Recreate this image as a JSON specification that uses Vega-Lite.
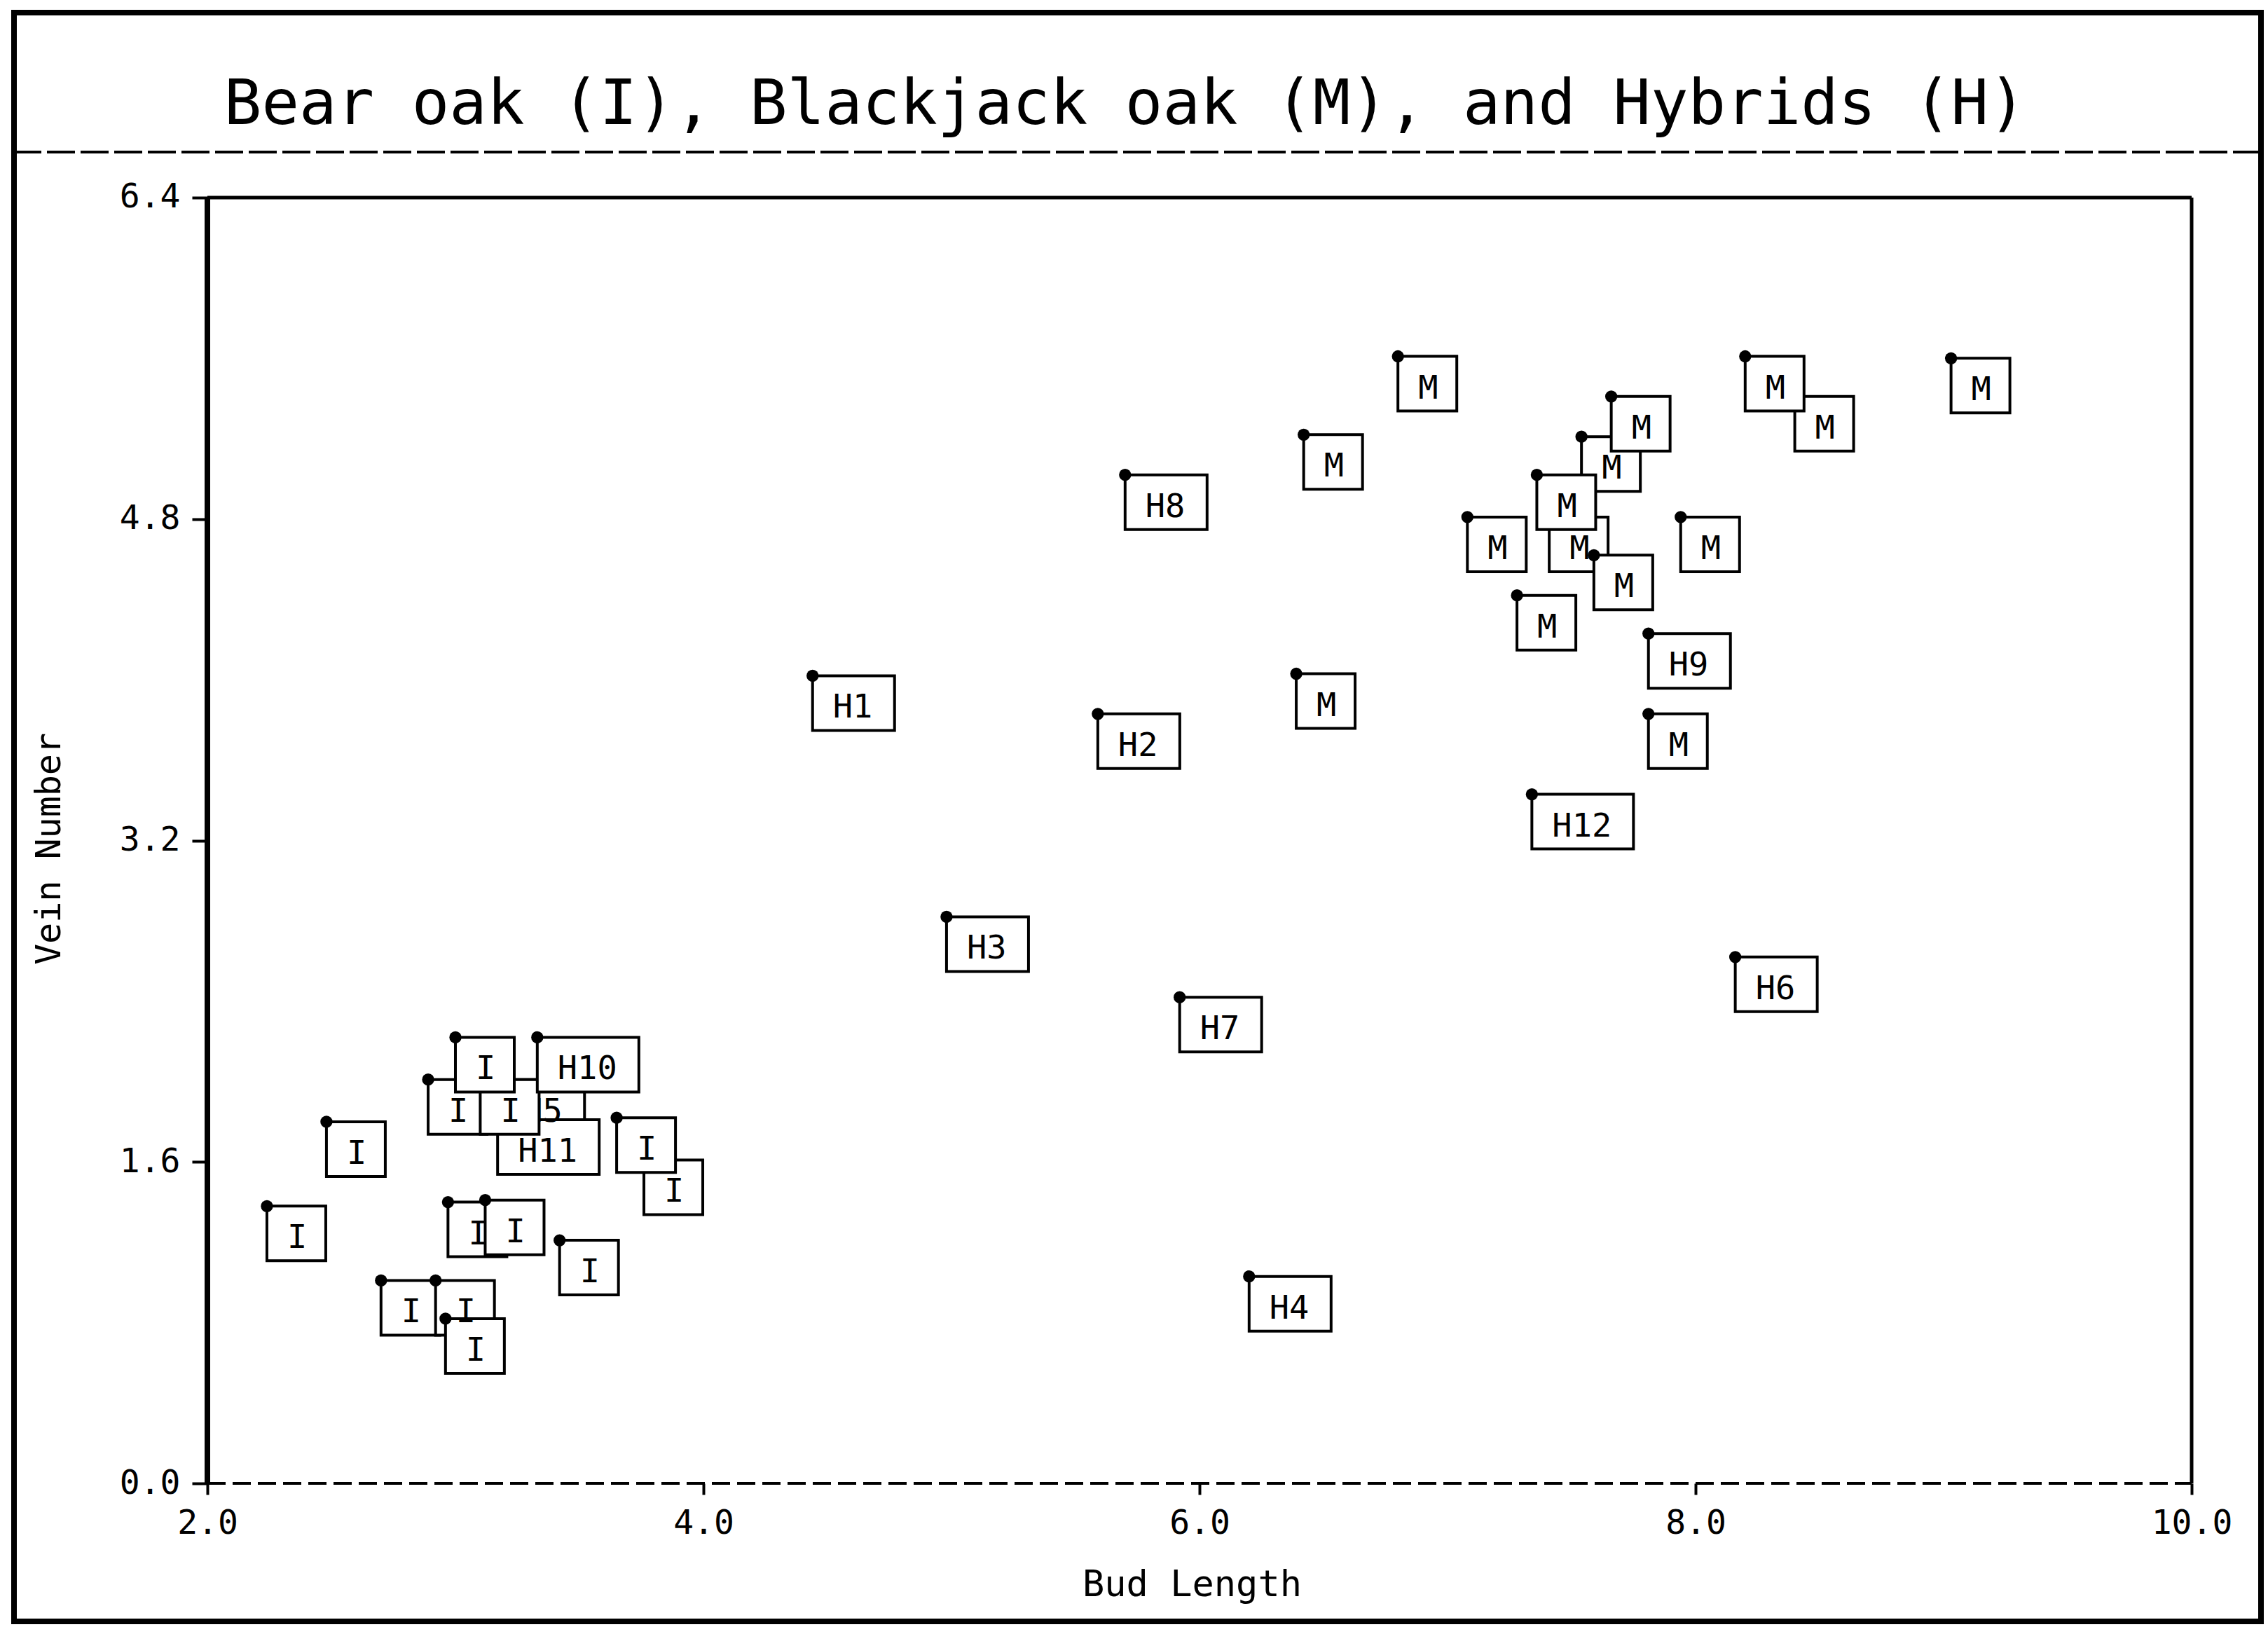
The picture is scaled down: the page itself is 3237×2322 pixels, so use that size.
{
  "$schema": "https://vega.github.io/schema/vega-lite/v6.json",
  "width": 3207,
  "height": 2296,
  "autosize": {"type": "none"},
  "padding": {"left": 20, "top": 18, "right": 10, "bottom": 8},
  "background": "white",
  "config": {
    "view": {"stroke": "black", "strokeWidth": 8, "fill": "white"}
  },
  "datasets": {
    "tierA": [
      {"bud_length": 3.19, "vein_number": 2.01, "label": "H5"},
      {"bud_length": 3.17, "vein_number": 1.81, "label": "H11"}
    ],
    "tierB": [
      {"bud_length": 2.89, "vein_number": 2.01, "label": "I"},
      {"bud_length": 3.10, "vein_number": 2.01, "label": "I"},
      {"bud_length": 3.76, "vein_number": 1.61, "label": "I"},
      {"bud_length": 7.54, "vein_number": 5.21, "label": "M"},
      {"bud_length": 7.41, "vein_number": 4.81, "label": "M"},
      {"bud_length": 8.40, "vein_number": 5.41, "label": "M"}
    ],
    "tierC": [
      {"bud_length": 3.00, "vein_number": 2.22, "label": "I"},
      {"bud_length": 3.33, "vein_number": 2.22, "label": "H10"},
      {"bud_length": 2.48, "vein_number": 1.80, "label": "I"},
      {"bud_length": 3.65, "vein_number": 1.82, "label": "I"},
      {"bud_length": 2.24, "vein_number": 1.38, "label": "I"},
      {"bud_length": 2.97, "vein_number": 1.40, "label": "I"},
      {"bud_length": 3.12, "vein_number": 1.41, "label": "I"},
      {"bud_length": 3.42, "vein_number": 1.21, "label": "I"},
      {"bud_length": 2.70, "vein_number": 1.01, "label": "I"},
      {"bud_length": 2.92, "vein_number": 1.01, "label": "I"},
      {"bud_length": 2.96, "vein_number": 0.82, "label": "I"},
      {"bud_length": 4.44, "vein_number": 4.02, "label": "H1"},
      {"bud_length": 5.59, "vein_number": 3.83, "label": "H2"},
      {"bud_length": 4.98, "vein_number": 2.82, "label": "H3"},
      {"bud_length": 6.20, "vein_number": 1.03, "label": "H4"},
      {"bud_length": 8.16, "vein_number": 2.62, "label": "H6"},
      {"bud_length": 5.92, "vein_number": 2.42, "label": "H7"},
      {"bud_length": 5.70, "vein_number": 5.02, "label": "H8"},
      {"bud_length": 7.81, "vein_number": 4.23, "label": "H9"},
      {"bud_length": 7.34, "vein_number": 3.43, "label": "H12"},
      {"bud_length": 6.80, "vein_number": 5.61, "label": "M"},
      {"bud_length": 8.20, "vein_number": 5.61, "label": "M"},
      {"bud_length": 9.03, "vein_number": 5.60, "label": "M"},
      {"bud_length": 7.66, "vein_number": 5.41, "label": "M"},
      {"bud_length": 6.42, "vein_number": 5.22, "label": "M"},
      {"bud_length": 7.36, "vein_number": 5.02, "label": "M"},
      {"bud_length": 7.08, "vein_number": 4.81, "label": "M"},
      {"bud_length": 7.94, "vein_number": 4.81, "label": "M"},
      {"bud_length": 7.59, "vein_number": 4.62, "label": "M"},
      {"bud_length": 7.28, "vein_number": 4.42, "label": "M"},
      {"bud_length": 6.39, "vein_number": 4.03, "label": "M"},
      {"bud_length": 7.81, "vein_number": 3.83, "label": "M"}
    ]
  },
  "layer": [
    {
      "data": {"values": [{}]},
      "mark": {"type": "rule", "color": "black", "strokeWidth": 4, "strokeDash": [40, 8]},
      "encoding": {
        "y": {"datum": 6.627, "type": "quantitative"}
      }
    },
    {
      "data": {"values": [{"title": "Bear oak (I), Blackjack oak (M), and Hybrids (H)"}]},
      "mark": {"type": "text", "align": "center", "baseline": "alphabetic", "font": "DejaVu Sans Mono", "fontSize": 89, "color": "black"},
      "encoding": {
        "x": {"datum": 5.7, "type": "quantitative"},
        "y": {"datum": 6.766, "type": "quantitative"},
        "text": {"field": "title"}
      }
    },
    {
      "data": {"values": [{}]},
      "mark": {"type": "rule", "color": "black", "strokeWidth": 8},
      "encoding": {
        "x": {"datum": 2, "type": "quantitative"},
        "y": {"datum": 0, "type": "quantitative"},
        "y2": {"datum": 6.4}
      }
    },
    {
      "data": {"values": [{}]},
      "mark": {"type": "rule", "color": "black", "strokeWidth": 5},
      "encoding": {
        "x": {"datum": 10, "type": "quantitative"},
        "y": {"datum": 0, "type": "quantitative"},
        "y2": {"datum": 6.4}
      }
    },
    {
      "data": {"values": [{}]},
      "mark": {"type": "rule", "color": "black", "strokeWidth": 5},
      "encoding": {
        "x": {"datum": 2, "type": "quantitative"},
        "x2": {"datum": 10},
        "y": {"datum": 6.4, "type": "quantitative"}
      }
    },
    {
      "data": {"values": [{}]},
      "mark": {"type": "rule", "color": "black", "strokeWidth": 4, "strokeDash": [26, 10]},
      "encoding": {
        "x": {"datum": 2, "type": "quantitative"},
        "x2": {"datum": 10},
        "y": {"datum": 0, "type": "quantitative"}
      }
    },
    {
      "data": {"name": "tierA"},
      "layer": [
        {
          "mark": {"type": "point", "filled": true, "fill": "white", "stroke": "black", "strokeWidth": 4, "size": 400, "opacity": 1, "fillOpacity": 1},
          "encoding": {
            "x": {
              "field": "bud_length", "type": "quantitative",
              "scale": {"domain": [1.22034, 10.27966], "nice": false, "zero": false},
              "axis": {
                "values": [2, 4, 6, 8, 10], "format": ".1f", "domain": false, "grid": false,
                "offset": -197, "tickSize": 16, "tickWidth": 4, "tickColor": "black",
                "labelPadding": 17, "labelFont": "DejaVu Sans Mono", "labelFontSize": 48, "labelColor": "black",
                "labelFlush": false, "labelOverlap": false,
                "title": "Bud Length", "titleFont": "DejaVu Sans Mono", "titleFontSize": 52, "titleFontWeight": "normal",
                "titleColor": "black", "titlePadding": 38, "titleX": 1681
              }
            },
            "y": {
              "field": "vein_number", "type": "quantitative",
              "scale": {"domain": [-0.68708, 7.32076], "nice": false, "zero": false},
              "axis": {
                "values": [0, 1.6, 3.2, 4.8, 6.4], "format": ".1f", "domain": false, "grid": false,
                "offset": -276, "tickSize": 22, "tickWidth": 4, "tickColor": "black",
                "labelPadding": 17, "labelFont": "DejaVu Sans Mono", "labelFontSize": 48, "labelColor": "black",
                "labelFlush": false, "labelOverlap": false,
                "title": "Vein Number", "titleFont": "DejaVu Sans Mono", "titleFontSize": 50, "titleFontWeight": "normal",
                "titleColor": "black", "titlePadding": 75, "titleY": 1193
              }
            },
            "shape": {
              "condition": [
                {"test": "length(datum.label) == 1", "value": "M0,0L8.4,0L8.4,7.8L0,7.8Z"},
                {"test": "length(datum.label) == 2", "value": "M0,0L11.7,0L11.7,7.8L0,7.8Z"}
              ],
              "value": "M0,0L14.5,0L14.5,7.8L0,7.8Z"
            }
          }
        },
        {
          "mark": {"type": "text", "align": "left", "baseline": "alphabetic", "dx": 29, "dy": 60, "font": "DejaVu Sans Mono", "fontSize": 47, "color": "black"},
          "encoding": {
            "x": {"field": "bud_length", "type": "quantitative"},
            "y": {"field": "vein_number", "type": "quantitative"},
            "text": {"field": "label"}
          }
        },
        {
          "mark": {"type": "point", "shape": "circle", "filled": true, "color": "black", "size": 300, "opacity": 1},
          "encoding": {
            "x": {"field": "bud_length", "type": "quantitative"},
            "y": {"field": "vein_number", "type": "quantitative"}
          }
        }
      ]
    },
    {
      "data": {"name": "tierB"},
      "layer": [
        {
          "mark": {"type": "point", "filled": true, "fill": "white", "stroke": "black", "strokeWidth": 4, "size": 400, "opacity": 1, "fillOpacity": 1},
          "encoding": {
            "x": {"field": "bud_length", "type": "quantitative"},
            "y": {"field": "vein_number", "type": "quantitative"},
            "shape": {
              "condition": [
                {"test": "length(datum.label) == 1", "value": "M0,0L8.4,0L8.4,7.8L0,7.8Z"},
                {"test": "length(datum.label) == 2", "value": "M0,0L11.7,0L11.7,7.8L0,7.8Z"}
              ],
              "value": "M0,0L14.5,0L14.5,7.8L0,7.8Z"
            }
          }
        },
        {
          "mark": {"type": "text", "align": "left", "baseline": "alphabetic", "dx": 29, "dy": 60, "font": "DejaVu Sans Mono", "fontSize": 47, "color": "black"},
          "encoding": {
            "x": {"field": "bud_length", "type": "quantitative"},
            "y": {"field": "vein_number", "type": "quantitative"},
            "text": {"field": "label"}
          }
        },
        {
          "mark": {"type": "point", "shape": "circle", "filled": true, "color": "black", "size": 300, "opacity": 1},
          "encoding": {
            "x": {"field": "bud_length", "type": "quantitative"},
            "y": {"field": "vein_number", "type": "quantitative"}
          }
        }
      ]
    },
    {
      "data": {"name": "tierC"},
      "layer": [
        {
          "mark": {"type": "point", "filled": true, "fill": "white", "stroke": "black", "strokeWidth": 4, "size": 400, "opacity": 1, "fillOpacity": 1},
          "encoding": {
            "x": {"field": "bud_length", "type": "quantitative"},
            "y": {"field": "vein_number", "type": "quantitative"},
            "shape": {
              "condition": [
                {"test": "length(datum.label) == 1", "value": "M0,0L8.4,0L8.4,7.8L0,7.8Z"},
                {"test": "length(datum.label) == 2", "value": "M0,0L11.7,0L11.7,7.8L0,7.8Z"}
              ],
              "value": "M0,0L14.5,0L14.5,7.8L0,7.8Z"
            }
          }
        },
        {
          "mark": {"type": "text", "align": "left", "baseline": "alphabetic", "dx": 29, "dy": 60, "font": "DejaVu Sans Mono", "fontSize": 47, "color": "black"},
          "encoding": {
            "x": {"field": "bud_length", "type": "quantitative"},
            "y": {"field": "vein_number", "type": "quantitative"},
            "text": {"field": "label"}
          }
        },
        {
          "mark": {"type": "point", "shape": "circle", "filled": true, "color": "black", "size": 300, "opacity": 1},
          "encoding": {
            "x": {"field": "bud_length", "type": "quantitative"},
            "y": {"field": "vein_number", "type": "quantitative"}
          }
        }
      ]
    }
  ]
}
